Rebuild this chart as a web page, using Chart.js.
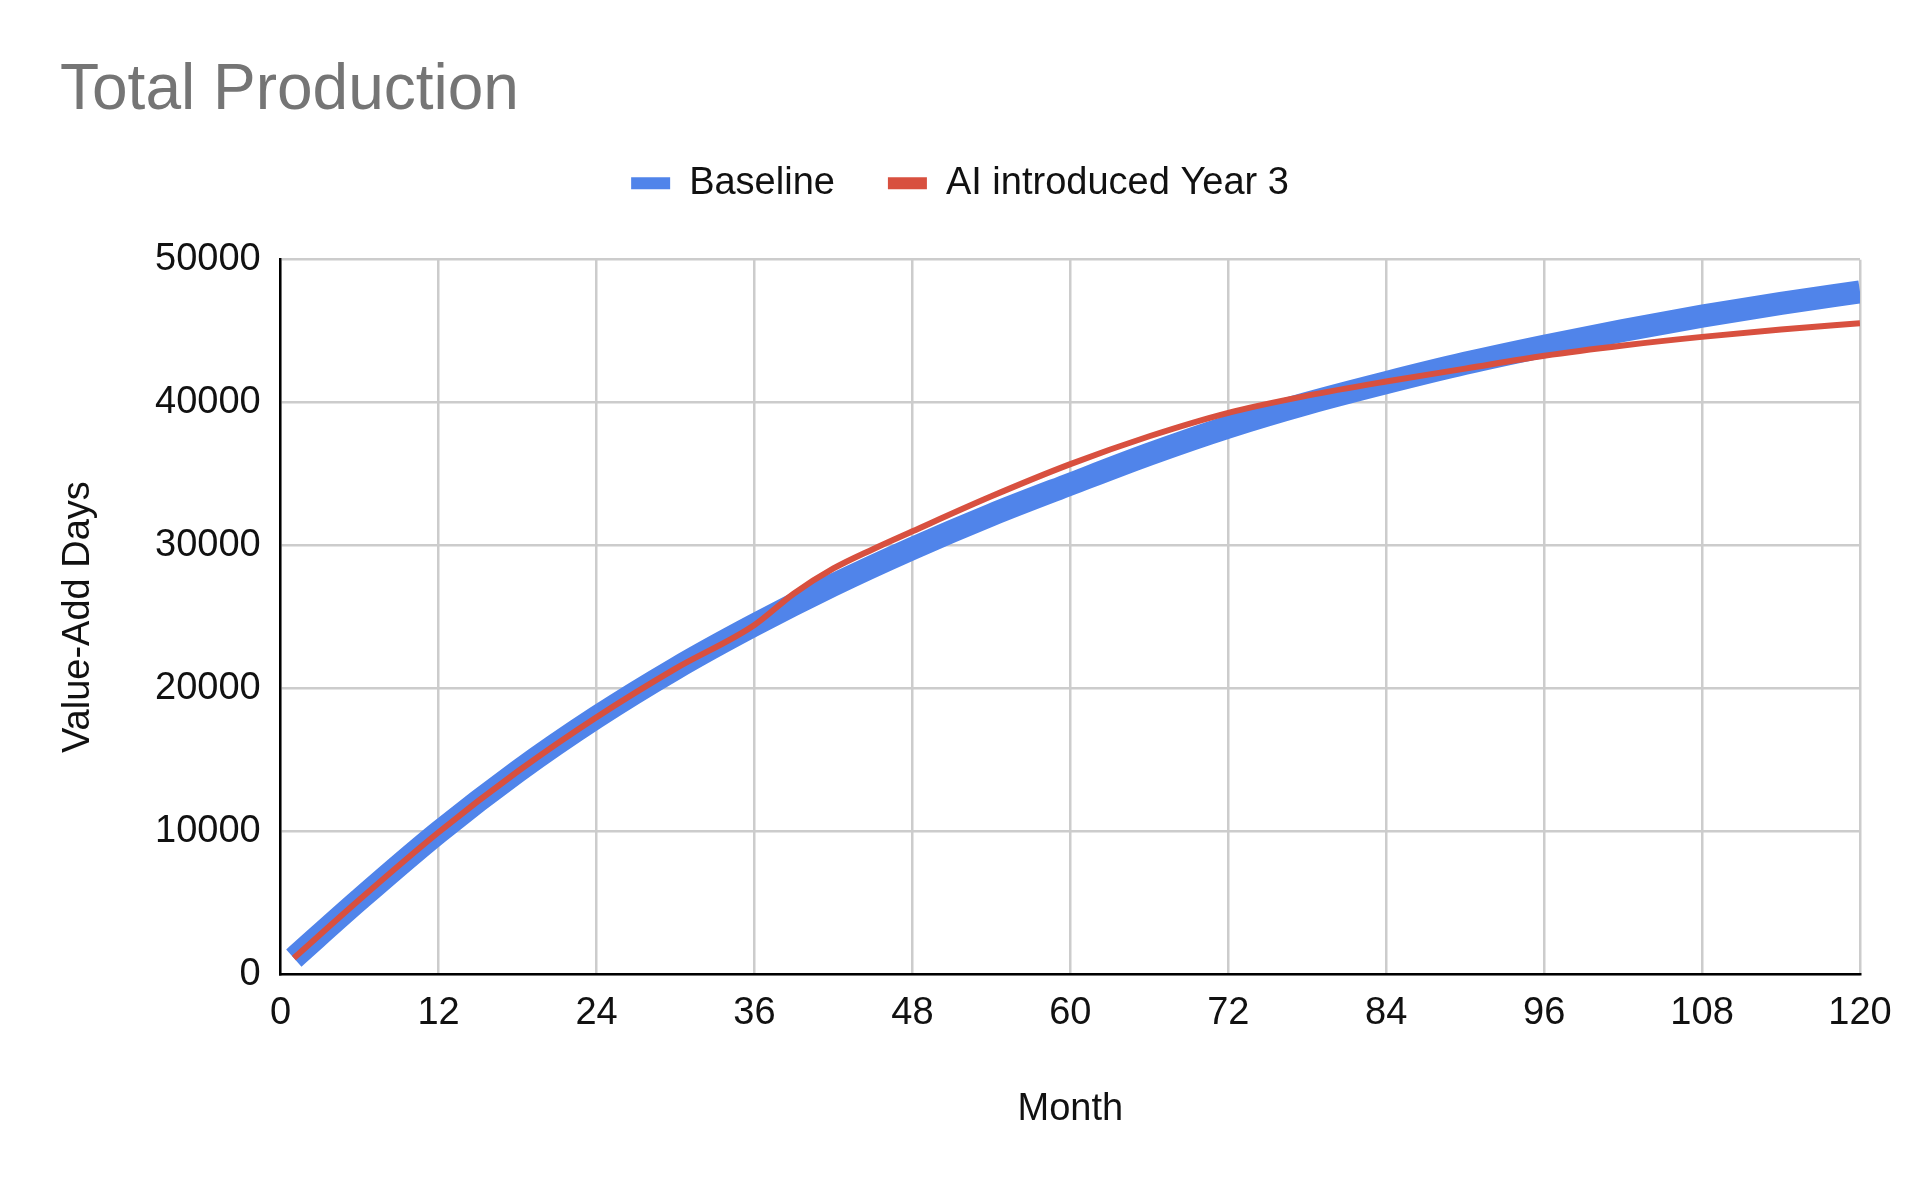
<!DOCTYPE html>
<html>
<head>
<meta charset="utf-8">
<title>Total Production</title>
<script src="https://cdn.jsdelivr.net/npm/chart.js@4.4.1/dist/chart.umd.min.js"></script>
<style>
  html, body { margin: 0; padding: 0; background: #ffffff; }
  #wrap { width: 1920px; height: 1186px; position: relative; }
</style>
</head>
<body>
<div id="wrap"><canvas id="productionChart"></canvas></div>
<script>
// Values
const baselineMonths = [1, 6, 12, 18, 24, 30, 36, 42, 48, 54, 60, 66, 72, 78, 84, 90, 96, 102, 108, 114, 120];
const baselineValues = [1150, 5250, 9950, 14200, 18000, 21400, 24450, 27250, 29800, 32150, 34300, 36400, 38300, 39950, 41400, 42750, 43950, 45050, 46050, 46950, 47750];

const aiMonths = [1, 6, 12, 18, 24, 30, 36, 39, 42, 45, 48, 54, 60, 66, 72, 78, 84, 90, 96, 102, 108, 114, 120];
const aiValues = [1150, 5250, 9950, 14200, 18000, 21400, 24450, 26650, 28400, 29750, 31000, 33450, 35700, 37650, 39290, 40490, 41480, 42380, 43280, 44000, 44600, 45110, 45560];

const seriesNames = ["Baseline", "AI introduced Year 3"];
const seriesColors = ["#5084ea", "#d8503f"];

const fontFamily = '"Liberation Sans", Arial, Helvetica, sans-serif';
const textColor = "#111111";

const ctx = document.getElementById("productionChart").getContext("2d");

function toPoints(months, values) {
  return months.map((m, i) => ({ x: m, y: values[i] }));
}

const productionChart = new Chart(ctx, {
  type: "line",
  data: {
    datasets: [
      {
        label: seriesNames[0],
        data: toPoints(baselineMonths, baselineValues),
        borderColor: seriesColors[0],
        backgroundColor: seriesColors[0],
        borderWidth: 23,
        borderJoinStyle: "round",
        cubicInterpolationMode: "monotone",
        pointRadius: 0,
        fill: false,
        order: 2,
      },
      {
        label: seriesNames[1],
        data: toPoints(aiMonths, aiValues),
        borderColor: seriesColors[1],
        backgroundColor: seriesColors[1],
        borderWidth: 6,
        borderJoinStyle: "round",
        cubicInterpolationMode: "monotone",
        pointRadius: 0,
        fill: false,
        order: 1,
      },
    ],
  },
  options: {
    responsive: true,
    maintainAspectRatio: false,
    animation: false,
    devicePixelRatio: 1,
    layout: {
      padding: { left: 60, right: 60, top: 0, bottom: 53.5 },
    },
    plugins: {
      title: {
        display: true,
        text: "Total Production",
        align: "start",
        color: "#757575",
        font: { family: fontFamily, size: 64, weight: "normal", lineHeight: 0.62 },
        padding: { top: 71.5, bottom: 0 },
      },
      // empty block that keeps the gap between legend and plot
      subtitle: {
        display: true,
        text: "",
        weight: 500,
        font: { family: fontFamily, size: 10, lineHeight: 1 },
        padding: { top: 37.5, bottom: 0 },
      },
      legend: {
        display: true,
        position: "top",
        align: "center",
        labels: {
          color: textColor,
          font: { family: fontFamily, size: 38 },
          boxWidth: 39,
          boxHeight: 12,
          padding: 53,
          sort: (a, b) => a.datasetIndex - b.datasetIndex,
          generateLabels: (chart) => {
            const items = Chart.defaults.plugins.legend.labels.generateLabels(chart);
            items.forEach((item) => {
              item.fillStyle = seriesColors[item.datasetIndex];
              item.strokeStyle = "rgba(0,0,0,0)";
              item.lineWidth = 0;
            });
            return items;
          },
        },
      },
      tooltip: { enabled: false },
    },
    scales: {
      x: {
        type: "linear",
        min: 0,
        max: 120,
        ticks: {
          stepSize: 12,
          padding: 16.5,
          color: textColor,
          font: { family: fontFamily, size: 38 },
          maxRotation: 0,
          autoSkip: false,
        },
        grid: { color: "#cccccc", lineWidth: 2.5, drawTicks: false },
        border: { color: "#000000", width: 2.5 },
        title: {
          display: true,
          text: "Month",
          color: textColor,
          font: { family: fontFamily, size: 38, lineHeight: 1.2 },
          padding: { top: 33.8, bottom: 0 },
        },
      },
      y: {
        min: 0,
        max: 50000,
        ticks: {
          stepSize: 10000,
          padding: 20,
          color: textColor,
          font: { family: fontFamily, size: 38 },
          callback: (value) => String(value),
        },
        grid: { color: "#cccccc", lineWidth: 2.5, drawTicks: false },
        border: { color: "#000000", width: 2.5 },
        title: {
          display: true,
          text: "Value-Add Days",
          color: textColor,
          font: { family: fontFamily, size: 38, lineHeight: 1 },
          padding: { top: 0, bottom: 37 },
        },
      },
    },
  },
});
</script>
</body>
</html>
